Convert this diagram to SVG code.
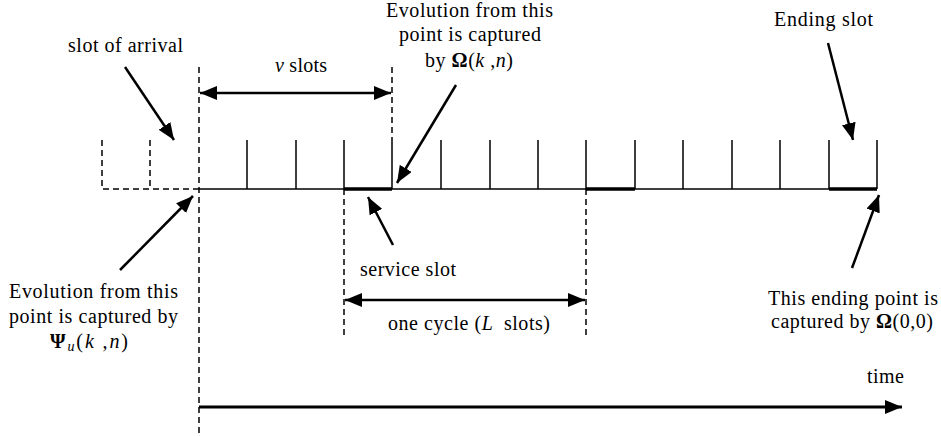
<svg xmlns="http://www.w3.org/2000/svg" width="941" height="436" viewBox="0 0 941 436">
<style>
text{font-size:20px;fill:#000}
.it{font-style:italic}
.b{font-weight:bold}
.ln{stroke:#000;stroke-width:1.5;fill:none}
.thick{stroke:#000;stroke-width:3.5;fill:none}
.dash{stroke:#000;stroke-width:1.5;stroke-dasharray:6,4;fill:none}
.arr{stroke:#000;stroke-width:2.5;fill:none;marker-end:url(#ah)}
.dbl{stroke:#000;stroke-width:2.5;fill:none;marker-end:url(#ah);marker-start:url(#ah)}
</style>
<defs>
<marker id="ah" markerUnits="userSpaceOnUse" markerWidth="18" markerHeight="14" refX="17" refY="7" orient="auto-start-reverse">
<path d="M0,0 L17,7 L0,14 z" fill="#000"/>
</marker>
</defs>
<rect width="941" height="436" fill="#fff"/>
<g id="timeline">
<line class="ln" x1="199" y1="189" x2="877" y2="189"/>
<path class="ln" d="M247,140V189M296,140V189M344,140V189M392,140V189M441,140V189M490,140V189M538,140V189M586,140V189M635,140V189M683,140V189M732,140V189M780,140V189M829,140V189M877,140V189"/>
<path class="thick" d="M344,189H392M586,189H635M829,189H877"/>
<path class="dash" d="M102,140V189H199M150,140V189"/>
<line class="dash" x1="199" y1="67" x2="199" y2="436"/>
<line class="dash" x1="392" y1="67" x2="392" y2="140"/>
<line class="dash" x1="344" y1="189" x2="344" y2="336"/>
<line class="dash" x1="586" y1="189" x2="586" y2="336"/>
</g>
<g id="connectors">
<line class="dbl" x1="200" y1="93" x2="391" y2="93"/>
<line class="dbl" x1="345" y1="300" x2="585" y2="300"/>
<line class="arr" x1="125" y1="67" x2="174" y2="140"/>
<line class="arr" x1="456" y1="85" x2="397" y2="183"/>
<line class="arr" x1="393" y1="245" x2="368" y2="197"/>
<line class="arr" x1="120" y1="270" x2="193" y2="196"/>
<line class="arr" x1="828" y1="43" x2="853" y2="140"/>
<line class="arr" x1="852" y1="268" x2="879" y2="195"/>
<line stroke="#000" stroke-width="3" marker-end="url(#ah)" x1="199" y1="407" x2="902" y2="407"/>
</g>
<g font-family="Liberation Serif, Times New Roman, serif">
<g id="label-arrival"><text x="68" y="52" textLength="115" lengthAdjust="spacing">slot of arrival</text></g>
<g id="label-vslots"><text x="275" y="72" textLength="52" lengthAdjust="spacing"><tspan class="it">v</tspan> slots</text></g>
<g id="label-omega-kn">
<text x="386" y="17" textLength="167" lengthAdjust="spacing">Evolution from this</text>
<text x="399" y="41" textLength="142" lengthAdjust="spacing">point is captured</text>
<text x="425" y="67" textLength="88" lengthAdjust="spacing">by <tspan class="b">Ω</tspan>(<tspan class="it">k</tspan> ,<tspan class="it">n</tspan>)</text>
</g>
<g id="label-ending"><text x="774" y="26" textLength="99" lengthAdjust="spacing">Ending slot</text></g>
<g id="label-service"><text x="360" y="276" textLength="96" lengthAdjust="spacing">service slot</text></g>
<g id="label-cycle"><text x="388" y="330" textLength="162" lengthAdjust="spacing">one cycle (<tspan class="it">L</tspan><tspan dx="5"> slots)</tspan></text></g>
<g id="label-psi">
<text x="9" y="298" textLength="169" lengthAdjust="spacing">Evolution from this</text>
<text x="9" y="323" textLength="169" lengthAdjust="spacing">point is captured by</text>
<text x="50" y="348" textLength="78" lengthAdjust="spacing"><tspan class="b">Ψ</tspan><tspan class="it" font-size="14" dy="3">u</tspan><tspan dy="-3">(</tspan><tspan class="it">k</tspan> ,<tspan class="it">n</tspan>)</text>
</g>
<g id="label-omega00">
<text x="768" y="305" textLength="170" lengthAdjust="spacing">This ending point is</text>
<text x="771" y="328" textLength="162" lengthAdjust="spacing">captured by <tspan class="b">Ω</tspan>(0,0)</text>
</g>
<g id="label-time"><text x="867" y="383" textLength="37" lengthAdjust="spacing">time</text></g>
</g>
</svg>
